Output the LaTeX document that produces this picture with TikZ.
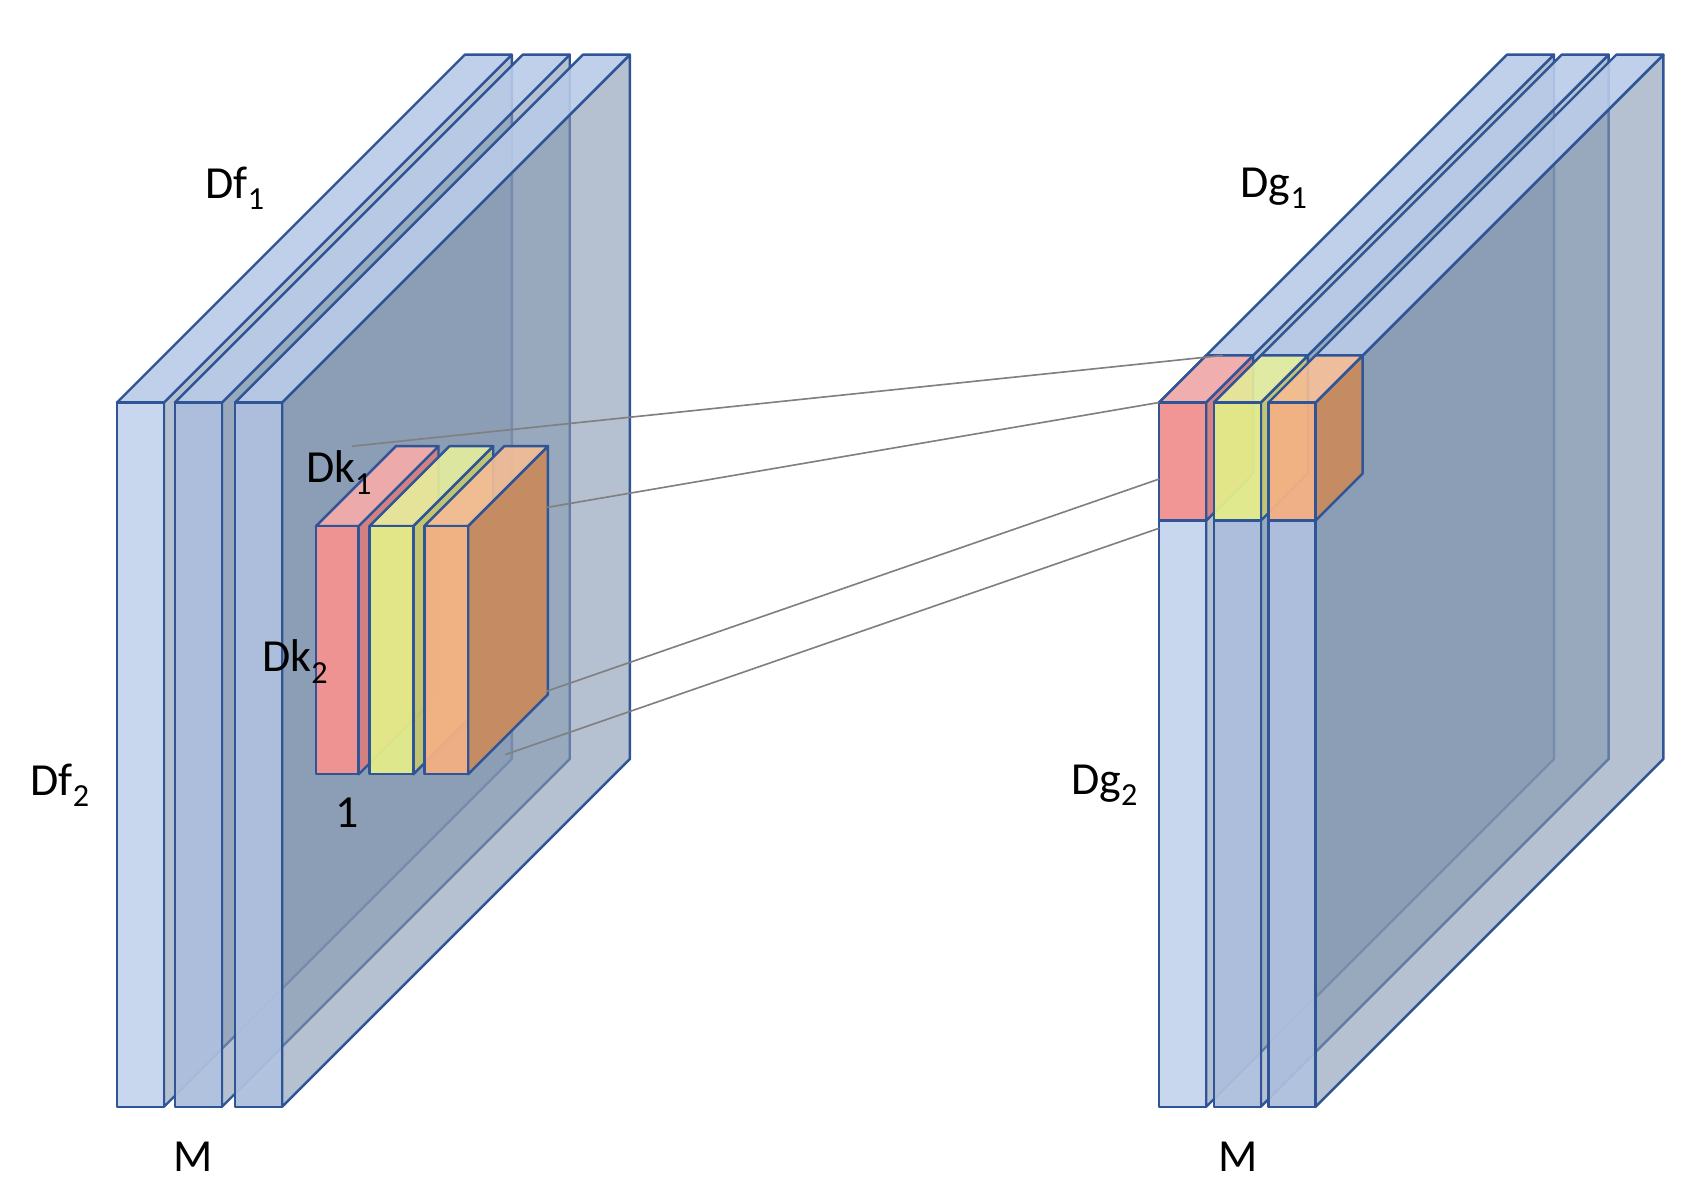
\documentclass[tikz,border=0pt]{standalone}
\usepackage{fontspec}
\setmainfont{Carlito}
\begin{document}
\begin{tikzpicture}[x=1pt,y=-1pt,line join=round,
  edge/.style={draw={rgb,255:red,47;green,85;blue,151},line width=2.2pt},
  lab/.style={font=\fontsize{42}{48}\selectfont,inner sep=0pt},
  conn/.style={draw=gray,line width=1.5pt}]
\definecolor{fA}{HTML}{C5D5EC}\definecolor{fB}{HTML}{ADBFDD}
\definecolor{tA}{HTML}{B9CBE8}\definecolor{sd}{HTML}{8497B0}
\definecolor{rF}{HTML}{F49391}\definecolor{rT}{HTML}{F7ABA9}\definecolor{rS}{HTML}{D68080}
\definecolor{yF}{HTML}{E3EC8A}\definecolor{yT}{HTML}{E6EE9C}\definecolor{yS}{HTML}{C5C86E}
\definecolor{oF}{HTML}{F3B084}\definecolor{oT}{HTML}{F5BD95}\definecolor{oS}{HTML}{C58C63}
\useasboundingbox (0,0) rectangle (1560,1093);
\newcommand\myslab[9]{%
 \path[edge,fill=#8,fill opacity=#9] (#1+#4,#2) -- ++(#5,-#5) -- (#1+#4+#5,#3-#5) -- (#1+#4,#3) -- cycle;
 \path[edge,fill=#7,fill opacity=0.9] (#1,#2) -- ++(#5,-#5) -- ++(#4,0) -- (#1+#4,#2) -- cycle;
 \path[edge,fill=#6,fill opacity=0.95] (#1,#2) rectangle (#1+#4,#3);}
% left stack
\myslab{107}{368}{1012}{43}{318}{fA}{tA}{sd}{0.6}
\myslab{160}{368}{1012}{43}{318}{fB}{tA}{sd}{0.6}
\myslab{215}{368}{1012}{43}{318}{fB}{tA}{sd}{0.6}
% kernels
\myslab{289}{481}{708}{39}{73}{rF}{rT}{rS}{0.95}
\myslab{338}{481}{708}{40}{73}{yF}{yT}{yS}{0.95}
\myslab{388}{481}{708}{40}{73}{oF}{oT}{oS}{1}
% right stack
\myslab{1060}{368}{1012}{43}{318}{fA}{tA}{sd}{0.6}
\myslab{1110}{368}{1012}{43}{318}{fB}{tA}{sd}{0.6}
\myslab{1160}{368}{1012}{43}{318}{fB}{tA}{sd}{0.6}
\myslab{1060}{368}{476}{43}{43}{rF}{rT}{rS}{0.95}
\myslab{1110}{368}{476}{43}{43}{yF}{yT}{yS}{0.95}
\myslab{1160}{368}{476}{43}{43}{oF}{oT}{oS}{1}
% connectors
\coordinate (k1) at (322,408); \coordinate (g1) at (1118,325);
\coordinate (k2) at (500,464); \coordinate (g2) at (1060,368);
\coordinate (k3) at (500,632); \coordinate (g3) at (1060,438);
\coordinate (k4) at (462,690); \coordinate (g4) at (1060,483);
\draw[conn] (k1) -- (g1); \draw[conn] (k2) -- (g2);
\draw[conn] (k3) -- (g3); \draw[conn] (k4) -- (g4);
% labels
\node[lab] (df1) at (215,172) {Df\textsubscript{1}};
\node[lab] (df2) at (55,718) {Df\textsubscript{2}};
\node[lab] (dk1) at (310,432) {Dk\textsubscript{1}};
\node[lab] (dk2) at (270,605) {Dk\textsubscript{2}};
\node[lab] (one) at (317,743) {1};
\node[lab] (m1) at (177,1058) {M};
\node[lab] (dg1) at (1165,172) {Dg\textsubscript{1}};
\node[lab] (dg2) at (1010,718) {Dg\textsubscript{2}};
\node[lab] (m2) at (1132,1058) {M};
\end{tikzpicture}
\end{document}
